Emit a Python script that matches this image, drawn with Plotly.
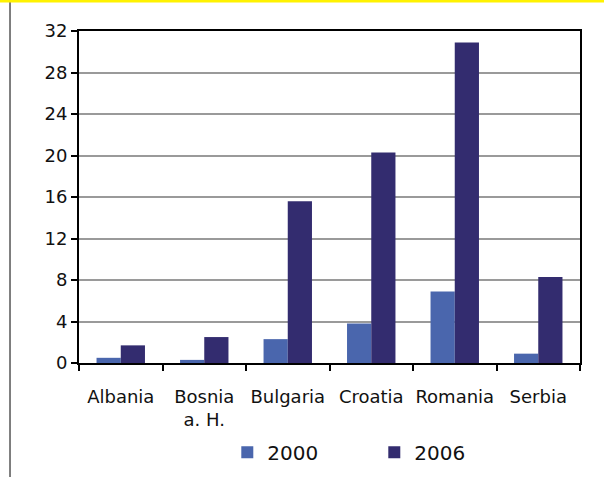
import plotly.graph_objects as go

categories = ["Albania", "Bosnia<br>a. H.", "Bulgaria", "Croatia", "Romania", "Serbia"]
values_2000 = [0.5, 0.3, 2.3, 3.8, 6.9, 0.9]
values_2006 = [1.7, 2.5, 15.6, 20.3, 30.9, 8.3]
y_ticks = [0, 4, 8, 12, 16, 20, 24, 28, 32]

fig = go.Figure()
fig.add_trace(go.Bar(x=categories, y=values_2000, name="2000", marker_color="#4A66AD",
                     marker_line_width=0))
fig.add_trace(go.Bar(x=categories, y=values_2006, name="2006", marker_color="#332C6F",
                     marker_line_width=0))

fig.update_layout(
    width=604, height=477,
    margin=dict(l=79, r=24, t=31, b=114, autoexpand=False),
    paper_bgcolor="white", plot_bgcolor="white",
    font=dict(family="DejaVu Sans, sans-serif", size=18, color="#111"),
    barmode="group", bargap=0.42, bargroupgap=0,
    showlegend=True,
    legend=dict(orientation="h", x=0.296, xanchor="left", y=-0.21, yanchor="top",
                entrywidth=102, font=dict(size=20), itemwidth=30),
    shapes=[
        dict(type="line", xref="paper", yref="paper", x0=-0.1377, x1=-0.1377,
             y0=1.0934, y1=-0.343, line=dict(color="#555", width=1.5)),
        dict(type="line", xref="paper", yref="paper", x0=-0.16, x1=1.05,
             y0=1.0904, y1=1.0904, line=dict(color="#FFF200", width=3)),
    ],
)
fig.update_xaxes(showline=True, linecolor="black", linewidth=2, mirror=True,
                 ticks="outside", ticklen=6, tickcolor="black", tickwidth=2,
                 tickson="boundaries", showgrid=False, tickangle=0, automargin=False,
                 ticklabelstandoff=16)
fig.update_yaxes(range=[0, 32], tickvals=y_ticks, showline=True, linecolor="black",
                 linewidth=2, mirror=True, ticks="outside", ticklen=6,
                 tickcolor="black", tickwidth=2, showgrid=True, gridcolor="#9A9A9A",
                 gridwidth=2, zeroline=False, automargin=False)

fig.write_html("out.html", config={"displayModeBar": False},
               post_script="document.body.style.margin='0';")
